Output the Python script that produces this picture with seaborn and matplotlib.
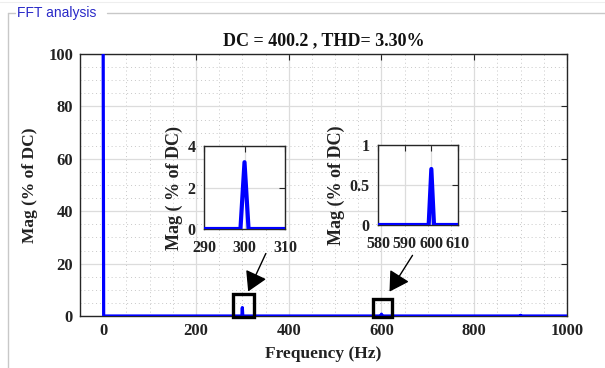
import matplotlib
matplotlib.use("Agg")
import matplotlib.pyplot as plt
from matplotlib.patches import Rectangle, FancyArrowPatch
from matplotlib.lines import Line2D
from matplotlib.ticker import MultipleLocator
import seaborn as sns
import pandas as pd

# Spectrum samples (1 Hz bins around each component), magnitude in % of DC
freq_hz = [0, 1, 299, 300, 301, 599, 600, 601, 899, 900, 901, 1000]
mag_pct = [100, 0, 0, 3.22, 0, 0, 0.70, 0, 0, 0.25, 0, 0]

title_text = "DC = 400.2 , THD= 3.30%"
panel_text = "FFT analysis"
main_xticks = [0, 200, 400, 600, 800, 1000]
main_yticks = [0, 20, 40, 60, 80, 100]
zoom1_xticks = [290, 300, 310]
zoom1_yticks = [0, 2, 4]
zoom2_xticks = [580, 590, 600, 610]
zoom2_yticks = [0, 0.5, 1]
zoom2_yticklabels = ["0", "0.5", "1"]

df = pd.DataFrame({"f": freq_hz, "m": mag_pct})

sns.set_theme(style="white")
plt.rcParams["font.family"] = ["Liberation Serif", "DejaVu Serif"]
plt.rcParams["font.weight"] = "bold"

W, H = 605, 368
fig = plt.figure(figsize=(W / 100, H / 100), dpi=100)
fig.patch.set_facecolor("white")

BLUE = "#0000ff"
AX_COL = "#262626"


def px_rect(l, t, r, b):
    return [l / W, 1 - b / H, (r - l) / W, (b - t) / H]


def style_axes(ax, fs=12, xpad=5, ypad=5):
    for s in ax.spines.values():
        s.set_visible(True)
        s.set_color(AX_COL)
        s.set_linewidth(1.0)
    ax.tick_params(which="major", direction="in", length=4, width=0.8,
                   colors=AX_COL, top=True, right=True, labelsize=fs)
    ax.tick_params(axis="x", which="major", pad=xpad)
    ax.tick_params(axis="y", which="major", pad=ypad)
    ax.tick_params(which="minor", length=0)
    for lab in ax.get_xticklabels() + ax.get_yticklabels():
        lab.set_fontweight("bold")
        lab.set_color("#222222")


# ---- main spectrum ----
ax = fig.add_axes(px_rect(80, 54, 567, 316))
sns.lineplot(data=df, x="f", y="m", sort=False, estimator=None,
             color=BLUE, linewidth=2.3, ax=ax, zorder=3)
ax.set_xlim(-50, 1000)
ax.set_ylim(0, 100)
ax.set_xticks(main_xticks)
ax.set_yticks(main_yticks)
ax.xaxis.set_minor_locator(MultipleLocator(50))
ax.yaxis.set_minor_locator(MultipleLocator(5))
ax.grid(which="major", color="#dcdcdc", linewidth=0.9, linestyle="-")
ax.grid(which="minor", color="#c8c8c8", linewidth=0.7, linestyle=(0, (1, 3)))
ax.set_axisbelow(True)
style_axes(ax, fs=12)
ax.set_xlabel("Frequency (Hz)", fontsize=12.5, fontweight="bold",
              color="#222222", labelpad=5)
ax.set_ylabel("Mag (% of DC)", fontsize=12.5, fontweight="bold",
              color="#222222", labelpad=7)
ax.set_title(title_text, fontsize=13, fontweight="bold", color="#111111",
             pad=6)

# highlight boxes around the harmonics shown in the insets
for (x0, w, h) in [(279, 47, 8.6), (582, 41, 6.8)]:
    ax.add_patch(Rectangle((x0, -0.3), w, h, fill=False, edgecolor="black",
                           linewidth=2.4, zorder=5, clip_on=False))

# ---- inset around 300 Hz ----
ax1 = fig.add_axes(px_rect(204, 146, 285, 229))
sns.lineplot(data=df, x="f", y="m", sort=False, estimator=None,
             color=BLUE, linewidth=3.0, ax=ax1, zorder=3)
ax1.set_xlim(290, 310)
ax1.set_ylim(0, 4)
ax1.set_xticks(zoom1_xticks)
ax1.set_yticks(zoom1_yticks)
ax1.grid(which="major", color="#dcdcdc", linewidth=0.9)
ax1.set_axisbelow(True)
style_axes(ax1, fs=11.5, xpad=8, ypad=6)
ax1.set_xlabel("")
ax1.set_ylabel("Mag ( % of DC)", fontsize=13, fontweight="bold",
               color="#222222", labelpad=3)

# ---- inset around 600 Hz ----
ax2 = fig.add_axes(px_rect(378, 145, 458, 225))
sns.lineplot(data=df, x="f", y="m", sort=False, estimator=None,
             color=BLUE, linewidth=3.0, ax=ax2, zorder=3)
ax2.set_xlim(580, 610)
ax2.set_ylim(0, 1)
ax2.set_xticks(zoom2_xticks)
ax2.set_yticks(zoom2_yticks)
ax2.set_yticklabels(zoom2_yticklabels)
ax2.grid(which="major", color="#dcdcdc", linewidth=0.9)
ax2.set_axisbelow(True)
style_axes(ax2, fs=11.5, xpad=8, ypad=6)
ax2.set_xlabel("")
ax2.set_ylabel("Mag (% of DC)", fontsize=13, fontweight="bold",
               color="#222222", labelpad=3)

# ---- arrows from insets to boxes ----
for (tail, tip) in [((267, 251), (247, 294)), ((414, 253), (388, 294))]:
    fig.add_artist(FancyArrowPatch(
        posA=(tail[0] / W, 1 - tail[1] / H), posB=(tip[0] / W, 1 - tip[1] / H),
        transform=fig.transFigure, arrowstyle="-|>,head_length=6,head_width=3.5",
        color="black", linewidth=1.0, mutation_scale=2, zorder=10))

# ---- panel frame ----
frame_col = "#c8c8c8"
fig.add_artist(Line2D([8 / W, 8 / W], [1 - 13 / H, 0], color=frame_col,
                      linewidth=1.0, transform=fig.transFigure))
fig.add_artist(Line2D([8 / W, 15 / W], [1 - 13 / H, 1 - 13 / H],
                      color=frame_col, linewidth=1.0, transform=fig.transFigure))
fig.add_artist(Line2D([107 / W, 1], [1 - 13 / H, 1 - 13 / H],
                      color=frame_col, linewidth=1.0, transform=fig.transFigure))
fig.add_artist(Line2D([0, 1], [1 - 2 / H, 1 - 2 / H], color="#eeeeee",
                      linewidth=0.8, transform=fig.transFigure))
fig.text(17 / W, 1 - 13 / H, panel_text, family="Liberation Sans",
         fontweight="normal", fontsize=10, color="#2a2ac8", va="center",
         ha="left")

fig.savefig("out.png", dpi=100, facecolor="white")
